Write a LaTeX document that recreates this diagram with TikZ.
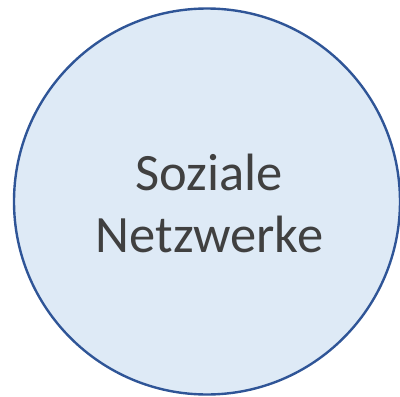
\documentclass[tikz,border=0pt]{standalone}
\usepackage{fontspec}
\setmainfont{Carlito}
\definecolor{fillblue}{HTML}{DEEAF6}
\definecolor{lineblue}{HTML}{2F5597}
\definecolor{textgray}{HTML}{404040}
\begin{document}
\begin{tikzpicture}[x=1pt,y=-1pt,
  circ/.style={circle,draw=lineblue,fill=fillblue,line width=2.4pt,minimum size=386pt,inner sep=0pt},
  lbl/.style={text=textgray,font=\fontsize{52.5}{62}\selectfont,align=center}]
\useasboundingbox (0,0) rectangle (400,397);
\node[circ] (c) at (207,201.5) {};
\node[lbl] (t) at (209.5,203) {Soziale\\Netzwerke};
\end{tikzpicture}
\end{document}
